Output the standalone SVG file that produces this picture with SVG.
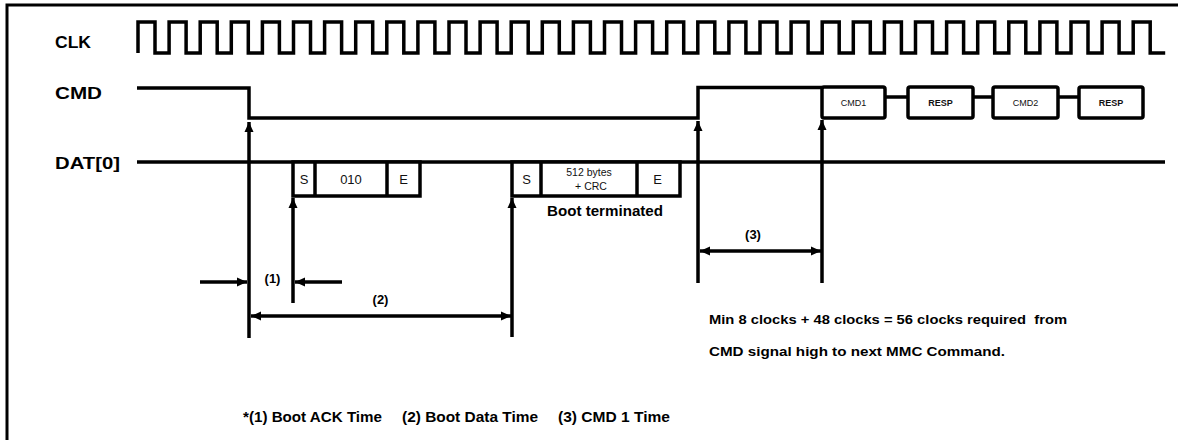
<svg xmlns="http://www.w3.org/2000/svg" width="1178" height="440" viewBox="0 0 1178 440">
<style>
.w{fill:none;stroke:#000;stroke-width:3.5;stroke-linejoin:miter}
.box{fill:#fff;stroke:#000;stroke-width:3.5}
.ln{fill:none;stroke:#000;stroke-width:3.5}
.lbl{font-family:"Liberation Sans",Arial,sans-serif;font-weight:bold;fill:#000}
.sm{font-family:"Liberation Sans",Arial,sans-serif;fill:#111}
</style>
<defs>
<marker id="ah" viewBox="0 0 10 10" refX="10" refY="5" markerWidth="10" markerHeight="10" markerUnits="userSpaceOnUse" orient="auto-start-reverse">
<path d="M0,0.5 L10,5 L0,9.5 Z" fill="#000"/>
</marker>
</defs>
<rect width="1178" height="440" fill="#fff"/>
<path d="M7,440 V5 H1178" fill="none" stroke="#000" stroke-width="3"/>
<g id="labels">
<text class="lbl" x="55" y="48" font-size="17" textLength="36" lengthAdjust="spacingAndGlyphs">CLK</text>
<text class="lbl" x="55" y="99" font-size="17" textLength="47" lengthAdjust="spacingAndGlyphs">CMD</text>
<text class="lbl" x="55" y="169" font-size="17" textLength="65" lengthAdjust="spacingAndGlyphs">DAT[0]</text>
</g>
<g id="clk">
<path class="w" d="M138,53 v-31 h17 v31 h14.1 v-31 h17 v31 h14.1 v-31 h17 v31 h14.1 v-31 h17 v31 h14.1 v-31 h17 v31 h14.1 v-31 h17 v31 h14.1 v-31 h17 v31 h14.1 v-31 h17 v31 h14.1 v-31 h17 v31 h14.1 v-31 h17 v31 h14.1 v-31 h17 v31 h14.1 v-31 h17 v31 h14.1 v-31 h17 v31 h14.1 v-31 h17 v31 h14.1 v-31 h17 v31 h14.1 v-31 h17 v31 h14.1 v-31 h17 v31 h14.1 v-31 h17 v31 h14.1 v-31 h17 v31 h14.1 v-31 h17 v31 h14.1 v-31 h17 v31 h14.1 v-31 h17 v31 h14.1 v-31 h17 v31 h14.1 v-31 h17 v31 h14.1 v-31 h17 v31 h14.1 v-31 h17 v31 h14.1 v-31 h17 v31 h14.1 v-31 h17 v31 h14.1 v-31 h17 v31 h14.1 v-31 h17 v31 h14.1 v-31 h17 v31 h14.1 v-31 h17 v31 h14.1 v-31 h17 v31 h15"/>
</g>
<g id="cmd">
<path class="w" d="M137,88 H249 V118 H698 V87.5 H822"/>
<path class="ln" d="M885,97 H908 M973,97 H993 M1058,97 H1079"/>
</g>
<g id="cmd1">
<rect class="box" x="822" y="87" width="63" height="31" rx="2"/>
<text class="sm" x="853.5" y="106" font-size="9" text-anchor="middle">CMD1</text>
</g>
<g id="resp1">
<rect class="box" x="908" y="87" width="65" height="31" rx="2"/>
<text class="sm" x="940.5" y="106" font-size="9" text-anchor="middle" font-weight="bold">RESP</text>
</g>
<g id="cmd2">
<rect class="box" x="993" y="87" width="65" height="31" rx="2"/>
<text class="sm" x="1025.5" y="106" font-size="9" text-anchor="middle">CMD2</text>
</g>
<g id="resp2">
<rect class="box" x="1079" y="87" width="64" height="31" rx="2"/>
<text class="sm" x="1111" y="106" font-size="9" text-anchor="middle" font-weight="bold">RESP</text>
</g>
<g id="dat">
<path class="w" d="M137,162 H1165"/>
</g>
<g id="ack">
<rect class="box" x="293" y="162" width="127" height="34"/>
<path class="ln" d="M315,162 V196 M387,162 V196" stroke-width="4"/>
<text class="sm" x="304" y="184" font-size="13" text-anchor="middle">S</text>
<text class="sm" x="351" y="184" font-size="13" text-anchor="middle">010</text>
<text class="sm" x="403.5" y="184" font-size="13" text-anchor="middle">E</text>
</g>
<g id="data">
<rect class="box" x="512" y="162" width="168" height="34"/>
<path class="ln" d="M541,162 V196 M637,162 V196" stroke-width="4"/>
<text class="sm" x="526.5" y="184" font-size="13" text-anchor="middle">S</text>
<text class="sm" x="589" y="176" font-size="10.5" text-anchor="middle">512 bytes</text>
<text class="sm" x="591" y="190" font-size="10.5" text-anchor="middle">+ CRC</text>
<text class="sm" x="657.5" y="184" font-size="13" text-anchor="middle">E</text>
<text class="lbl" x="605" y="216" font-size="14" text-anchor="middle" textLength="116" lengthAdjust="spacingAndGlyphs">Boot terminated</text>
</g>
<g id="connectors">
<path class="ln" d="M249,338 V122" marker-end="url(#ah)"/>
<path class="ln" d="M293,303 V198" marker-end="url(#ah)"/>
<path class="ln" d="M512,337 V198" marker-end="url(#ah)"/>
<path class="ln" d="M698,283 V121" marker-end="url(#ah)"/>
<path class="ln" d="M822,283 V120" marker-end="url(#ah)"/>
<path class="ln" d="M200,282 H247" marker-end="url(#ah)"/>
<path class="ln" d="M342,282 H295" marker-end="url(#ah)"/>
<path class="ln" d="M251,316 H511" marker-start="url(#ah)" marker-end="url(#ah)"/>
<path class="ln" d="M700,251 H821" marker-start="url(#ah)" marker-end="url(#ah)"/>
</g>
<g id="annotations">
<text class="lbl" x="272.5" y="283" font-size="13" text-anchor="middle">(1)</text>
<text class="lbl" x="380.5" y="304" font-size="13" text-anchor="middle">(2)</text>
<text class="lbl" x="753" y="239" font-size="13" text-anchor="middle">(3)</text>
<text class="lbl" x="709" y="324" font-size="13" textLength="358" lengthAdjust="spacingAndGlyphs" xml:space="preserve">Min 8 clocks + 48 clocks = 56 clocks required  from</text>
<text class="lbl" x="709" y="356" font-size="13" textLength="296" lengthAdjust="spacingAndGlyphs">CMD signal high to next MMC Command.</text>
<text class="lbl" x="243" y="422" font-size="14" textLength="139" lengthAdjust="spacingAndGlyphs">*(1) Boot ACK Time</text>
<text class="lbl" x="402" y="422" font-size="14" textLength="136" lengthAdjust="spacingAndGlyphs">(2) Boot Data Time</text>
<text class="lbl" x="558" y="422" font-size="14" textLength="112" lengthAdjust="spacingAndGlyphs">(3) CMD 1 Time</text>
</g>
</svg>
